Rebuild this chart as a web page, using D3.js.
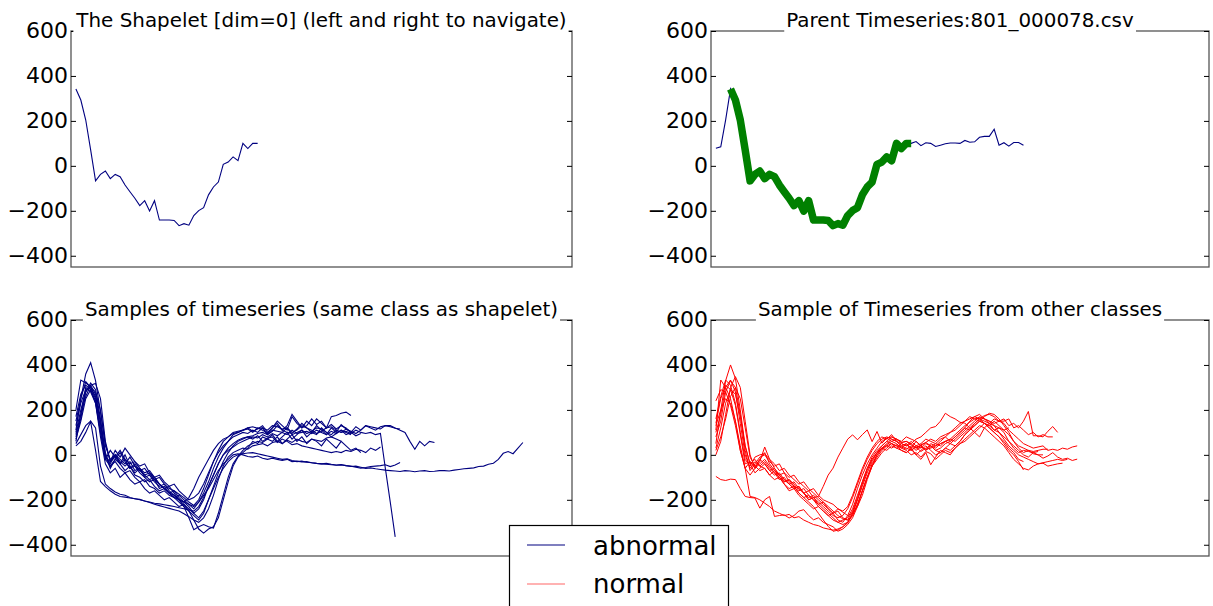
<!DOCTYPE html>
<html>
<head>
<meta charset="utf-8">
<script src="https://cdn.jsdelivr.net/npm/d3@7"></script>
<style>
body { margin: 0; background: #fff; }
svg { font-family: "DejaVu Sans", sans-serif; }
</style>
</head>
<body>
<div id="chart"></div>
<script>
// values
var titles = ["The Shapelet [dim=0] (left and right to navigate)",
	"Parent Timeseries:801_000078.csv",
	"Samples of timeseries (same class as shapelet)",
	"Sample of Timeseries from other classes"];
var yTicks = [600, 400, 200, 0, -200, -400];
var yDomain = [-450, 600];
var xDomain = [-1, 101];
var legendLabels = ["abnormal", "normal"];

var shapelet = [342, 293, 204, 71, -67, -38, -23, -57, -38, -48, -85, -115, -144, -177, -155, -201, -155, -241, -241, -241,
	-243, -266, -257, -264, -221, -199, -186, -129, -94, -72, 7, 17, 40, 23, 100, 77, 100, 100];
var shapeletStart = 3;
var parentSeries = [78, 85, 205, 342, 293, 204, 71, -67, -38, -23, -57, -38, -48, -85, -115, -144, -177, -155, -201, -155,
	-241, -241, -241, -243, -266, -257, -264, -221, -199, -186, -129, -94, -72, 7, 17, 40, 23, 100, 77, 100,
	100, 108, 90, 103, 100, 86, 92, 98, 102, 102, 100, 113, 105, 107, 127, 131, 131, 163, 92, 103,
	88, 104, 104, 92];

var sameClass = [
	[110, 250, 360, 410, 330, 190, 40, -20, 0, -20, -40, -10, -50, -70, -60, -90, -110, -100, -130, -150, -160, -175, -190, -210, -225, -200, -150, -90, -30, 20, 60, 80, 100, 105, 110, 115, 100, 120, 110, 95, 120, 140, 110, 130, 180, 150, 120, 130, 160, 135, 150, 120, 170, 175, 185, 190, 175],
	[200, 333, 320, 300, 250, 120, -10, -30, -10, 20, -20, -40, -30, -60, -80, -70, -100, -130, -150, -170, -180, -200, -210, -190, -150, -100, -60, -20, 20, 50, 70, 80, 95, 100, 110, 120, 125, 118, 120, 110, 130, 125, 115, 120, 100, 110, 130, 120, 110, 95, 105, 120, 125, 110, 100, 115, 105, 95, 110, 130, 125, 120, 115, 130, 125, 118, 115],
	[150, 250, 326, 300, 260, 150, 0, -60, -20, -40, -70, -50, -90, -100, -120, -110, -140, -160, -150, -170, -190, -210, -230, -250, -270, -290, -260, -200, -140, -80, -30, 10, 40, 60, 70, 80, 85, 95, 100, 90, 110, 105, 100, 120, 90, 100, 110, 95, 105, 120, 115, 100, 90, 110, 100, 105, 95, 110, 100, 95, 100, 90, 95, -60, -210, -365],
	[70, 150, 250, 290, 240, 100, -20, -50, -30, -60, -80, -70, -100, -120, -110, -140, -150, -170, -160, -180, -190, -200, -210, -220, -230, -210, -180, -150, -110, -70, -40, -20, 0, 5, 0, -7, -10, -5, -15, -20, -15, -20, -25, -20, -30, -28, -32, -30, -35, -38, -40, -38, -42, -45, -43, -48, -52, -50, -55, -60, -58, -62, -65, -68, -70, -72, -74, -70, -72, -75, -72, -70, -74, -73, -70, -70, -72, -68, -65, -62, -60, -58, -52, -50, -42, -37, -20, 7, 15, 5, 30, 55],
	[90, 180, 260, 310, 318, 250, 60, -30, 20, -10, 30, 0, -30, -50, -40, -80, -100, -90, -120, -140, -130, -160, -180, -200, -190, -170, -130, -80, -30, 10, 40, 60, 80, 90, 100, 95, 110, 100, 120, 90, 105, 130, 110, 100, 95, 115, 140, 120, 100, 130, 110, 90, 120, 100, 135, 115, 100, 125, 110, 130, 120, 110, 125, 130, 130, 120, 110, 100, 60, 25, 60, 40, 60, 55],
	[60, 180, 300, 280, 230, 80, -40, -80, -60, -100, -80, -110, -130, -120, -150, -170, -160, -180, -200, -190, -210, -230, -220, -240, -260, -280, -250, -200, -150, -100, -60, -30, -10, 0, 5, 8, 10, 5, 0, -5, -10, -15, -20, -18, -25, -30, -28, -33, -35, -38, -40, -42, -44, -46, -45, -48, -50, -55, -59, -56, -52, -50, -48, -44, -52, -45, -34],
	[40, 60, 100, 148, 20, -118, -141, -160, -175, -185, -188, -192, -195, -198, -205, -210, -215, -218, -222, -226, -230, -235, -240, -245, -250, -230, -190, -140, -90, -40, 0, 20, 35, 50, 60, 70, 80, 75, 90, 80, 95, 85, 100, 90, 110, 95, 100, 105, 95, 110, 100, 90, 105, 95, 110, 100, 90],
	[50, 90, 130, 150, 120, -50, -130, -150, -165, -175, -180, -190, -195, -200, -205, -212, -220, -226, -232, -238, -244, -250, -262, -275, -290, -300, -280, -240, -180, -110, -50, -10, 10, 20, 30, 25, 40, 45, 50, 40, 55, 60, 50, 65, 55, 70, 60, 55, 70, 65, 60, 75, 80, 70, 60],
	[130, 230, 290, 300, 280, 200, 50, -30, 0, -40, -20, -60, -50, -80, -100, -90, -120, -140, -130, -160, -180, -200, -220, -250, -290, -330, -348, -330, -320, -280, -200, -120, -50, -10, 10, 30, 60, 50, 80, 70, 90, 60, 80, 100, 70, 90, 110, 80, 100, 90, 120, 100, 80, 95, 110, 90, 100, 85, 95],
	[100, 200, 280, 320, 290, 160, 10, -50, -20, 10, -30, -60, -40, -70, -90, -80, -110, -130, -150, -140, -170, -200, -230, -280, -333, -320, -310, -320, -326, -260, -180, -100, -40, -7, 20, 40, 50, 60, 55, 70, 60, 80, 50, 70, 90, 60, 80, 50, 70, 60, 40, 70, 50, 30, 60, 40, 20, 30, 10],
	[80, 160, 280, 310, 270, 140, -10, -40, 0, -30, -50, -30, -70, -60, -90, -110, -100, -130, -150, -170, -160, -190, -210, -230, -260, -240, -200, -140, -90, -40, 0, 30, 50, 65, 75, 80, 70, 85, 60, 75, 80, 55, 70, 60, 45, 50, 40, 35, 30, 25, 20, 15, 10, 15, 10, 20, 15, 25, 20, 10, 30, 20, 35],
	[170, 270, 310, 290, 230, 100, -20, 20, -10, -40, 0, -50, -80, -60, -100, -120, -110, -150, -140, -170, -190, -180, -200, -220, -240, -210, -170, -120, -60, -10, 30, 60, 90, 100, 110, 120, 105, 115, 130, 100, 120, 150, 130, 110, 170, 140, 120, 150, 130, 160, 140, 120, 135, 115, 130, 120, 100]
];

var otherClasses = [
	[50, 200, 330, 400, 340, 200, 40, -40, -20, -50, -30, -60, -80, -100, -120, -110, -140, -150, -170, -160, -190, -210, -230, -250, -270, -280, -270, -240, -190, -130, -70, -20, 20, 50, 70, 80, 70, 60, 50, 40, 50, 30, 45, 55, 40, 30, 50, 60, 70, 60, 80, 100, 120, 140, 160, 175, 180, 170, 150, 140, 110, 90, 70, 50, 40, 30, 35, 40, 20, 25, 20, 30, 25, 35, 40],
	[110, 333, 300, 250, 150, 20, -60, -30, -50, -20, -40, -70, -90, -80, -110, -130, -120, -150, -170, -190, -180, -200, -220, -240, -260, -290, -300, -270, -220, -150, -90, -40, 0, 30, 60, 75, 80, 70, 55, 60, 45, 30, 40, 20, 35, 50, 40, 60, 50, 70, 90, 110, 130, 150, 170, 160, 150, 130, 100, 80, 60, 40, 20, 0, -10, 10, 0, -15, -5, 10, -10, -20, -15, -25, -19],
	[160, 260, 333, 310, 230, 100, -20, -50, -10, 0, 5, -20, -40, -70, -60, -90, -110, -130, -120, -150, -170, -190, -210, -230, -250, -270, -285, -290, -250, -190, -120, -60, -10, 20, 40, 60, 50, 30, 20, 10, 25, 0, -20, 10, -44, -10, 20, 10, 0, 30, 50, 70, 90, 110, 130, 120, 100, 80, 60, 40, 10, -20, -40, -60, -67, -50, -40, -37, -50, -45, -40, -37],
	[0, 60, 180, 300, 348, 300, 150, 0, -60, -40, -20, -50, -80, -110, -100, -130, -150, -140, -170, -200, -190, -220, -240, -260, -280, -300, -310, -300, -260, -200, -140, -80, -30, 10, 40, 60, 80, 70, 60, 80, 70, 60, 40, 55, 70, 60, 80, 90, 100, 120, 140, 150, 170, 160, 165, 160, 150, 140, 150, 160, 130, 140, 120, 150, 193, 85, 85, 80, 105, 126, 100],
	[-96, -110, -114, -108, -110, -150, -185, -190, -192, -237, -200, -185, -274, -270, -267, -281, -270, -250, -244, -270, -289, -280, -300, -310, -320, -340, -330, -310, -280, -230, -160, -100, -50, -20, 10, 30, 50, 40, 30, 50, 20, 40, 30, 50, 40, 20, 30, 50, 60, 80, 100, 120, 110, 130, 150, 140, 120, 100, 80, 50, 20, 0, -30, -67],
	[240, 290, 280, 220, 130, 20, -60, -90, -60, -30, 35, -20, -60, -90, -110, -130, -150, -140, -170, -200, -190, -185, -140, -90, -59, -10, 30, 70, 89, 67, 90, 111, 59, 104, 52, 74, 60, 70, 55, 60, 50, 70, 80, 100, 120, 126, 150, 185, 170, 160, 145, 141, 120, 100, 80, 120, 140, 130, 120, 110, 120],
	[80, 150, 280, 330, 300, 180, 20, -70, -40, -10, 0, -30, -50, -40, -80, -100, -90, -120, -140, -160, -150, -180, -200, -210, -220, -240, -255, -270, -260, -230, -180, -110, -50, 0, 30, 50, 70, 60, 40, 30, 20, 35, 15, 30, 40, 20, 10, 30, 50, 40, 60, 90, 110, 130, 150, 170, 185, 180, 160, 130, 100, 60, 40, 30, 20, 15, 20, 25, 25],
	[30, 120, 230, 290, 270, 170, 40, -40, -80, -60, -40, -70, -60, -90, -120, -110, -130, -160, -150, -180, -200, -220, -210, -240, -260, -250, -280, -290, -270, -220, -160, -100, -40, 0, 25, 45, 60, 50, 30, 20, 0, 10, -10, 15, 5, -20, 0, 20, 10, 30, 50, 60, 80, 100, 120, 140, 130, 150, 130, 110, 90, 60, 30, 10, 20, 5, 0, 0],
	[140, 250, 310, 290, 220, 90, -40, -30, -60, -20, 10, -40, -70, -90, -80, -120, -140, -170, -190, -210, -230, -260, -290, -318, -340, -335, -320, -303, -260, -200, -130, -70, -20, 10, 30, 40, 50, 40, 20, 10, 30, 0, 20, 40, 20, 0, 10, 30, 20, 40, 60, 90, 110, 140, 160, 150, 140, 110, 120, 100, 60, 30, 10, 20, 15, 10, 15],
	[100, 180, 300, 333, 280, 140, 0, -60, -30, -50, -60, -90, -70, -100, -130, -150, -140, -170, -190, -180, -200, -230, -250, -270, -260, -240, -250, -230, -180, -120, -60, -10, 30, 60, 80, 70, 90, 60, 40, 50, 30, 60, 40, 20, 50, 40, 60, 80, 60, 80, 100, 120, 150, 170, 180, 160, 140, 160, 150, 150, 160, 120, 130, 110, 90, 100, 80, 90, 80, 80],
	[130, 200, 250, 230, 150, 40, -60, -185, -190, -200, -215, -230, -250, -260, -270, -265, -280, -275, -290, -300, -310, -315, -325, -330, -335, -330, -320, -300, -270, -220, -160, -100, -50, -10, 20, 40, 30, 45, 35, 25, 40, 20, 35, 25, 30, 40, 50, 60, 70, 90, 110, 130, 145, 160, 150, 140, 120, 100, 80, 60, 30, 10, -20, -30],
	[20, 80, 160, 260, 300, 250, 120, -10, -50, -70, -60, -90, -110, -100, -130, -160, -150, -180, -200, -220, -240, -230, -250, -270, -290, -300, -290, -280, -240, -180, -120, -60, -20, 10, 30, 20, 40, 30, 50, 40, 60, 40, 50, 70, 60, 50, 70, 80, 100, 110, 130, 150, 160, 170, 160, 140, 130, 110, 100, 70, 40, 20, 0, -10, -20, -30, -40, -35, -30, -25, -20, -25, -20]
];

var blue = "#000080", red = "#ff0000", green = "#008000";

var svg = d3.select("#chart").append("svg")
	.attr("width", 1213)
	.attr("height", 606);

var boxes = [
	{left: 71, top: 31, width: 501, height: 236},
	{left: 711, top: 31, width: 498, height: 236},
	{left: 71, top: 320, width: 501, height: 236},
	{left: 711, top: 320, width: 498, height: 236}
];

function makeAxes(i)
{
	var b = boxes[i];
	var g = svg.append("g")
		.attr("transform", "translate(" + b.left + "," + b.top + ")");
	var x = d3.scaleLinear().domain(xDomain).range([0, b.width]);
	var y = d3.scaleLinear().domain(yDomain).range([b.height, 0]);

	g.append("clipPath").attr("id", "clip" + i)
		.append("rect").attr("width", b.width).attr("height", b.height);
	var plot = g.append("g").attr("clip-path", "url(#clip" + i + ")");

	return {g: g, plot: plot, x: x, y: y, box: b, index: i};
}

function finishAxes(ax)
{
	var g = ax.g, b = ax.box, y = ax.y;
	g.append("rect")
		.attr("width", b.width).attr("height", b.height)
		.attr("fill", "none")
		.attr("stroke", "#555")
		.attr("stroke-width", 1.3);

	// ticks point inward on both sides
	g.append("g").call(d3.axisLeft(y).tickValues(yTicks).tickSize(-5).tickPadding(3)
		.tickFormat(function(d) { return d < 0 ? "\u2212" + Math.abs(d) : d; }))
		.call(function(s) {
			s.select(".domain").remove();
			s.selectAll("text").attr("font-size", "22px").attr("font-family", "DejaVu Sans").attr("fill", "#000")
				.attr("dy", "0.3em");
			s.selectAll("line").attr("stroke", "#000");
		});
	g.append("g").attr("transform", "translate(" + b.width + ",0)")
		.call(d3.axisRight(y).tickValues(yTicks).tickSize(-5).tickFormat(""))
		.call(function(s) {
			s.select(".domain").remove();
			s.selectAll("line").attr("stroke", "#000");
		});

	var t = g.append("text")
		.attr("x", b.width / 2)
		.attr("y", -4)
		.attr("text-anchor", "middle")
		.attr("font-size", "19.9px")
		.text(titles[ax.index]);
	var bb = t.node().getBBox();
	g.insert("rect", function() { return t.node(); })
		.attr("x", bb.x - 2).attr("y", bb.y)
		.attr("width", bb.width + 4).attr("height", bb.height + 2)
		.attr("fill", "#fff");
}

var line = function(ax) {
	return d3.line()
		.x(function(d, i) { return ax.x(i); })
		.y(function(d) { return ax.y(d); });
};

// shapelet
var a0 = makeAxes(0);
a0.plot.append("path").datum(shapelet)
	.attr("d", line(a0)).attr("fill", "none").attr("stroke", blue).attr("stroke-width", 1.1);
finishAxes(a0);

// parent with shapelet on top
var a1 = makeAxes(1);
a1.plot.append("path").datum(parentSeries)
	.attr("d", line(a1)).attr("fill", "none").attr("stroke", blue).attr("stroke-width", 1.1);
a1.plot.append("path").datum(shapelet)
	.attr("d", d3.line()
		.x(function(d, i) { return a1.x(i + shapeletStart); })
		.y(function(d) { return a1.y(d); }))
	.attr("fill", "none").attr("stroke", green).attr("stroke-width", 7.5)
	.attr("stroke-linejoin", "round");
finishAxes(a1);

var a2 = makeAxes(2);
a2.plot.selectAll(".ts").data(sameClass).enter().append("path")
	.attr("class", "ts")
	.attr("d", line(a2)).attr("fill", "none").attr("stroke", blue).attr("stroke-width", 1.1);
finishAxes(a2);

var a3 = makeAxes(3);
a3.plot.selectAll(".ts").data(otherClasses).enter().append("path")
	.attr("class", "ts")
	.attr("d", line(a3)).attr("fill", "none").attr("stroke", red).attr("stroke-width", 1);
finishAxes(a3);

// legend
var leg = svg.append("g").attr("transform", "translate(509,525)");
leg.append("rect").attr("x", 0.5).attr("y", 0.5).attr("width", 219).attr("height", 120)
	.attr("fill", "#fff").attr("stroke", "#000").attr("stroke-width", 1.2);
var legColors = [blue, "#ff6666"];
legendLabels.forEach(function(name, i) {
	leg.append("line")
		.attr("x1", 18).attr("x2", 56)
		.attr("y1", 20 + i * 39).attr("y2", 20 + i * 39)
		.attr("stroke", legColors[i]).attr("stroke-width", 1.2);
	leg.append("text")
		.attr("x", 84).attr("y", 30 + i * 38)
		.attr("font-size", "26px")
		.text(name);
});
</script>
</body>
</html>
